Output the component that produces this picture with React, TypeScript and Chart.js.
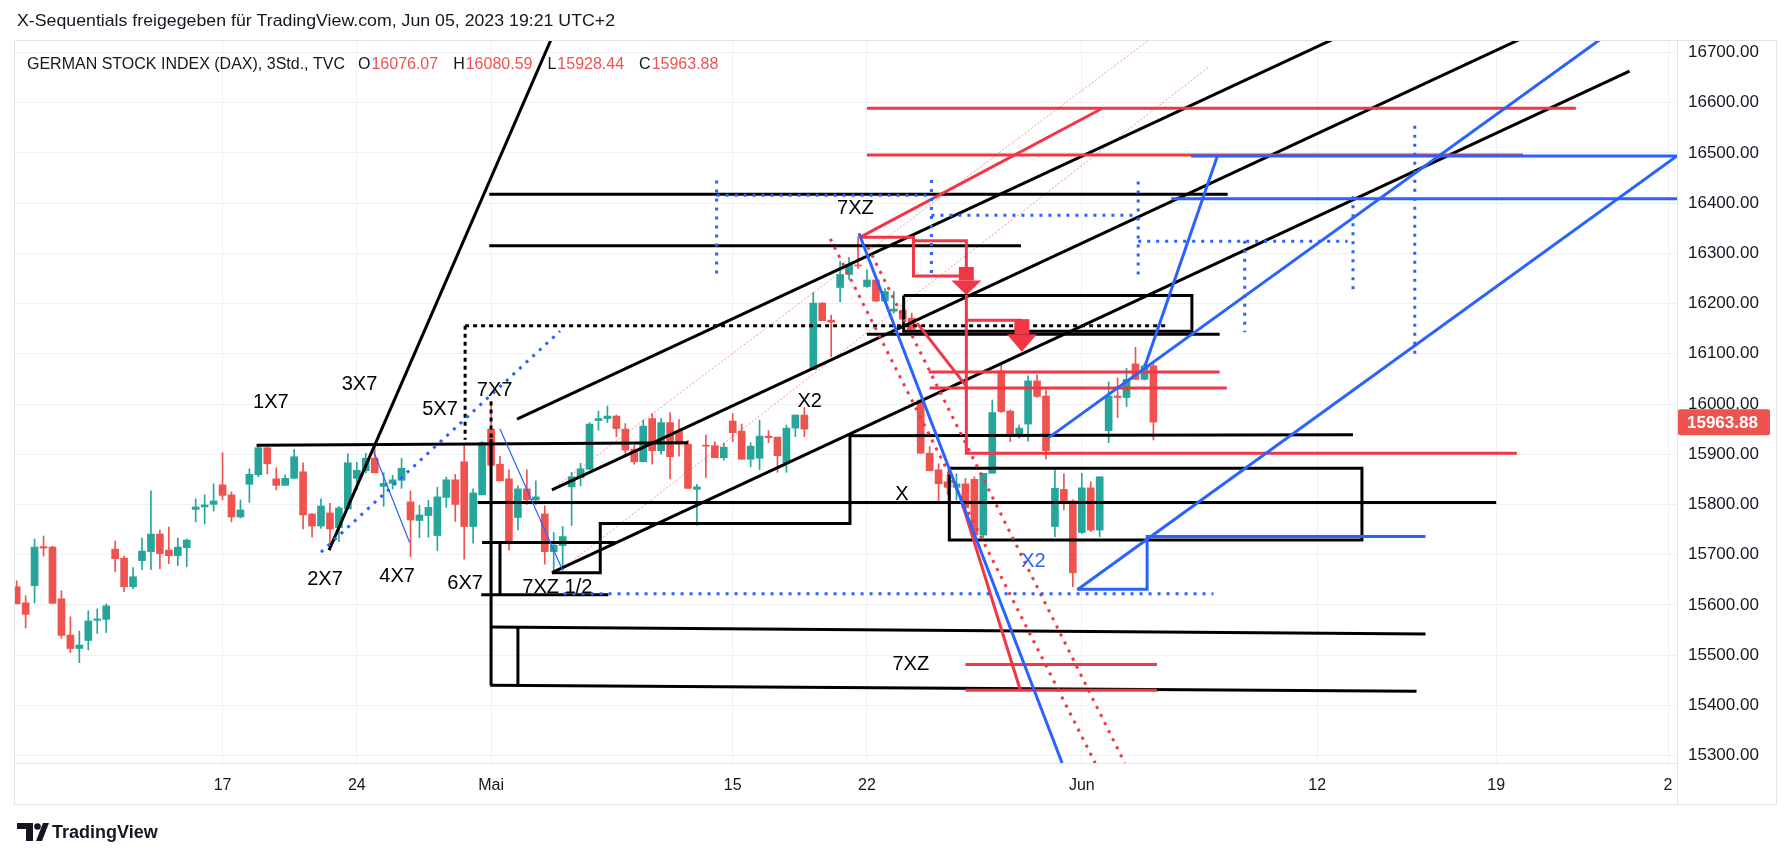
import React, { useEffect, useRef } from "react";
import { Chart, registerables } from "chart.js";

Chart.register(...registerables);

// ---------- candle data (3h bars, bar index 0 = first visible bar) ----------
const opens = [
  15636, 15604, 15638, 15716, 15715, 15612, 15540, 15513, 15529, 15569,
  15571, 15711, 15693, 15636, 15688, 15706, 15741, 15709, 15698, 15714,
  15790, 15795, 15800, 15839, 15819, 15775, 15840, 15859, 15913, 15851,
  15838, 15852, 15865, 15781, 15757, 15783, 15754, 15791, 15852, 15867,
  15892, 15836, 15842, 15848, 15805, 15768, 15778, 15738, 15814, 15849,
  15885, 15756, 15819, 15950, 15880, 15851, 15774, 15831, 15809, 15781,
  15706, 15718, 15835, 15853, 15870, 15967, 15971, 15976, 15950, 15910,
  15885, 15971, 15907, 15963, 15945, 15920, 15830, 15918, 15917, 15893,
  15966, 15946, 15890, 15892, 15936, 15934, 15883, 15952, 15978, 16069,
  16201, 16167, 16232, 16258, 16277, 16234, 16247, 16205, 16185, 16187,
  16171, 16008, 15902, 15869, 15845, 15834, 15841, 15850, 15739, 15862,
  16066, 15986, 15936, 15960, 16046, 16016, 15756, 15830, 15807, 15744,
  15833, 15749, 15947, 16016, 16013, 16080, 16049, 16076.07,
];
const highs = [
  15648, 15618, 15731, 15737, 15717, 15628, 15576, 15548, 15588, 15592,
  15602, 15727, 15697, 15674, 15733, 15827, 15749, 15755, 15733, 15731,
  15811, 15819, 15841, 15903, 15825, 15809, 15871, 15919, 15913, 15873,
  15859, 15909, 15883, 15782, 15811, 15802, 15796, 15901, 15884, 15902,
  15919, 15863, 15858, 15892, 15827, 15798, 15808, 15834, 15854, 15860,
  15919, 15831, 15925, 16005, 15896, 15869, 15837, 15869, 15847, 15797,
  15744, 15756, 15864, 15882, 15963, 15986, 15996, 15978, 15961, 15918,
  15968, 15981, 15971, 15983, 15969, 15928, 15840, 15938, 15925, 15922,
  15981, 15960, 15923, 15968, 15947, 15934, 15958, 15978, 15993, 16222,
  16202, 16177, 16284, 16292, 16333, 16267, 16247, 16230, 16224, 16187,
  16181, 16008, 15915, 15881, 15860, 15861, 15852, 15855, 15862, 16008,
  16081, 15988, 15958, 16056, 16058, 16028, 15869, 15861, 15809, 15862,
  15845, 15855, 16044, 16052, 16071, 16113, 16081, 16080.59,
];
const lows = [
  15602, 15554, 15604, 15697, 15603, 15533, 15505, 15485, 15510, 15543,
  15545, 15666, 15626, 15632, 15670, 15670, 15672, 15682, 15678, 15676,
  15765, 15761, 15787, 15809, 15765, 15773, 15804, 15855, 15861, 15829,
  15838, 15852, 15751, 15735, 15752, 15709, 15726, 15791, 15829, 15863,
  15863, 15796, 15831, 15832, 15696, 15734, 15735, 15708, 15794, 15766,
  15691, 15723, 15819, 15842, 15847, 15709, 15749, 15800, 15800, 15681,
  15669, 15669, 15758, 15837, 15870, 15948, 15963, 15935, 15900, 15880,
  15885, 15880, 15900, 15851, 15896, 15832, 15758, 15854, 15893, 15888,
  15925, 15890, 15875, 15869, 15923, 15864, 15864, 15935, 15935, 16069,
  16166, 16094, 16204, 16248, 16270, 16232, 16204, 16205, 16181, 16169,
  16149, 15902, 15867, 15804, 15820, 15809, 15792, 15737, 15734, 15862,
  15983, 15925, 15932, 15926, 16013, 15890, 15736, 15789, 15636, 15742,
  15746, 15736, 15923, 15973, 15995, 16049, 16048, 15928.44,
];
const closes = [
  15602, 15581, 15715, 15713, 15603, 15539, 15513, 15520, 15568, 15572,
  15598, 15692, 15636, 15656, 15707, 15741, 15702, 15698, 15715, 15729,
  15795, 15799, 15807, 15818, 15775, 15789, 15860, 15913, 15881, 15838,
  15852, 15895, 15779, 15757, 15797, 15751, 15793, 15883, 15868, 15892,
  15863, 15842, 15849, 15872, 15769, 15779, 15794, 15815, 15849, 15800,
  15756, 15823, 15923, 15878, 15847, 15726, 15831, 15809, 15815, 15706,
  15719, 15736, 15855, 15871, 15960, 15971, 15976, 15951, 15908, 15885,
  15956, 15907, 15963, 15895, 15920, 15832, 15835, 15916, 15893, 15914,
  15943, 15890, 15916, 15936, 15933, 15897, 15952, 15978, 15950, 16201,
  16166, 16163, 16258, 16277, 16275, 16247, 16205, 16224, 16189, 16169,
  16149, 15902, 15867, 15841, 15834, 15841, 15793, 15739, 15862, 15983,
  15985, 15935, 15952, 16046, 16015, 15907, 15832, 15805, 15664, 15833,
  15749, 15855, 16016, 16013, 16049, 16049, 16076, 15963.88,
];
const barIndex = opens.map((_, i) => i);

// ---------- axes ----------
const xTickPos = [23, 38, 53, 80, 95, 119, 145.3, 165.3, 184.5];
const xTickLabels = ["17", "24", "Mai", "15", "22", "Jun", "12", "19", "2"];
const yTicks = [15300, 15400, 15500, 15600, 15700, 15800, 15900, 16000, 16100, 16200, 16300, 16400, 16500, 16600, 16700];
const X_MIN = -0.3;
const X_MAX = 185.5;
const Y_MIN = 15285;
const Y_MAX = 16725;

// ---------- drawings: polylines of [barIndex, price] ----------
type Pt = [number, number];
const blackSolid: Pt[][] = [
  [[34.9, 15709], [62, 16820]],
  [[26.8, 15918], [75.0, 15923]],
  [[55.9, 15970], [147.5, 16730]],
  [[59.8, 15829], [168.5, 16731]],
  [[59.8, 15664], [180.2, 16663]],
  [[52.8, 16418], [135.3, 16418]],
  [[52.8, 16315], [112.2, 16315]],
  [[95.0, 16139], [134.4, 16139]],
  [[99.1, 16216], [131.3, 16216], [131.3, 16145], [99.1, 16145], [99.1, 16216]],
  [[59.8, 15664], [65.2, 15664], [65.2, 15762], [93.1, 15762], [93.1, 15937], [149.3, 15939]],
  [[51.5, 15804], [165.3, 15804]],
  [[104.2, 15872], [150.3, 15872], [150.3, 15729], [104.2, 15729], [104.2, 15872]],
  [[51.9, 15620], [66.1, 15620]],
  [[52.0, 15724], [66.9, 15724]],
  [[54.0, 15722], [54.0, 15620]],
  [[53.0, 15930], [53.0, 15440]],
  [[52.9, 15556], [157.4, 15542]],
  [[52.9, 15440], [156.4, 15428]],
  [[56.0, 15555], [56.0, 15440]],
];
const blackDotted: Pt[][] = [
  [[50.1, 16156], [128.7, 16156]],
  [[50.1, 16156], [50.1, 15929]],
  [[53.0, 16005], [53.0, 15930]],
];
const redSolid: Pt[][] = [
  [[95.0, 16589], [174.2, 16589]],
  [[95.0, 16496], [168.3, 16496]],
  [[94.2, 16332], [121.2, 16588]],
  [[94.2, 16332], [100.2, 16332], [100.2, 16255], [106.1, 16255]],
  [[100.2, 16325], [106.1, 16325], [106.1, 16273]],
  [[106.1, 16217], [106.1, 15902], [167.6, 15902]],
  [[106.1, 16167], [112.3, 16167]],
  [[101.9, 16064], [134.4, 16064]],
  [[102.0, 16032], [135.2, 16032]],
  [[100.6, 16161], [106.2, 16033]],
  [[105.5, 15810], [112.1, 15432]],
  [[106.0, 15481], [127.4, 15481]],
  [[106.0, 15430], [127.4, 15430]],
];
const redDotted: Pt[][] = [
  [[90.9, 16329], [120.5, 15285]],
  [[95.1, 16313], [123.8, 15285]],
];
const paleRedDotted: Pt[][] = [
  [[60.5, 15839], [126.5, 16725]],
  [[61.3, 15676], [133.1, 16670]],
];
const blueSolid: Pt[][] = [
  [[94.1, 16340], [116.8, 15285]],
  [[115.3, 15933], [178.0, 16740]],
  [[118.5, 15630], [185.5, 16494]],
  [[131.2, 16494], [185.5, 16494]],
  [[126.05, 16075], [134.15, 16494]],
  [[129.0, 16409], [185.5, 16409]],
  [[118.5, 15631], [126.3, 15631], [126.3, 15736], [157.4, 15736]],
];
const blueThin: Pt[][] = [
  [[39.9, 15905], [43.9, 15724]],
  [[54.0, 15950], [61.0, 15669]],
];
const blueDotted: Pt[][] = [
  [[34.0, 15705], [60.7, 16145]],
  [[61.1, 15622], [133.7, 15622]],
  [[78.2, 16445], [78.2, 16258]],
  [[78.2, 16416], [102.2, 16416]],
  [[102.2, 16446], [102.2, 16260]],
  [[102.2, 16376], [125.3, 16376]],
  [[125.3, 16443], [125.3, 16257]],
  [[125.3, 16324], [148.7, 16324]],
  [[137.2, 16325], [137.2, 16143]],
  [[149.3, 16414], [149.3, 16225]],
  [[156.2, 16554], [156.2, 16100]],
];
// red arrows: x, body top, head base, tip
const arrowX = [106.1, 112.3];
const arrowTop = [16273, 16169];
const arrowBase = [16246, 16139];
const arrowTip = [16217, 16104];

// text labels: text, x, price, blue?
const waveLabels: [string, number, number, boolean][] = [
  ["1X7", 28.4, 16004, false],
  ["3X7", 38.3, 16038, false],
  ["5X7", 47.3, 15990, false],
  ["7X7", 53.4, 16027, false],
  ["2X7", 34.45, 15650, false],
  ["4X7", 42.5, 15656, false],
  ["6X7", 50.1, 15643, false],
  ["7XZ 1/2", 60.4, 15635, false],
  ["7XZ", 93.7, 16390, false],
  ["X2", 88.6, 16005, false],
  ["X", 98.9, 15819, false],
  ["X2", 113.6, 15686, true],
  ["7XZ", 99.9, 15481, false],
];

const FONT = "'Liberation Sans', Arial, sans-serif";
const TEXT = "#131722";
const UP = "#26a69a";
const DOWN = "#ef5350";
const RED = "#f23645";
const BLUE = "#2962ff";
const GRID = "#eff1f5";
const FRAME = "#e0e3eb";

export default function App() {
  const ref = useRef<HTMLCanvasElement>(null);

  useEffect(() => {
    document.body.style.margin = "0";
    const canvas = ref.current;
    if (!canvas) return;

    const datasets: any[] = [];
    const addLines = (groups: Pt[][], color: string, width: number, dash: number[], order: number) => {
      groups.forEach((g) =>
        datasets.push({
          type: "line",
          data: g.map(([x, y]) => ({ x, y })),
          borderColor: color,
          borderWidth: width,
          borderDash: dash,
          borderCapStyle: "butt",
          borderJoinStyle: "miter",
          pointRadius: 0,
          pointHoverRadius: 0,
          fill: false,
          tension: 0,
          showLine: true,
          order,
        })
      );
    };

    const colors = barIndex.map((i) => (closes[i] >= opens[i] ? UP : DOWN));
    datasets.push({
      type: "bar",
      data: barIndex.map((i) => ({ x: i, y: [lows[i], highs[i]] })),
      backgroundColor: colors,
      borderWidth: 0,
      barThickness: 1,
      grouped: false,
      order: 101,
    });
    datasets.push({
      type: "bar",
      data: barIndex.map((i) => ({ x: i, y: [opens[i], closes[i]] })),
      backgroundColor: colors,
      borderWidth: 0,
      barThickness: 7,
      minBarLength: 1,
      grouped: false,
      order: 100,
    });
    addLines(paleRedDotted, "rgba(242,54,69,0.55)", 1, [2, 2], 60);
    addLines(blackSolid, "#000000", 3, [], 50);
    addLines(blackDotted, "#000000", 3, [4, 4], 48);
    addLines(redSolid, RED, 3, [], 40);
    addLines(redDotted, RED, 3, [3, 6], 38);
    addLines(blueDotted, BLUE, 3, [3, 6], 30);
    addLines(blueSolid, BLUE, 3, [], 20);
    addLines(blueThin, BLUE, 1.2, [], 19);

    const overlay = {
      id: "overlay",
      beforeDraw(chart: any) {
        const ctx = chart.ctx;
        ctx.save();
        ctx.fillStyle = "#ffffff";
        ctx.fillRect(0, 0, chart.width, chart.height);
        ctx.restore();
      },
      afterDatasetsDraw(chart: any) {
        const { ctx, chartArea } = chart;
        const xs = chart.scales.x;
        const ys = chart.scales.y;
        ctx.save();
        ctx.beginPath();
        ctx.rect(chartArea.left, chartArea.top, chartArea.right - chartArea.left, chartArea.bottom - chartArea.top);
        ctx.clip();
        // arrows
        ctx.fillStyle = RED;
        arrowX.forEach((ax, i) => {
          const px = xs.getPixelForValue(ax);
          const yt = ys.getPixelForValue(arrowTop[i]);
          const yb = ys.getPixelForValue(arrowBase[i]);
          const yp = ys.getPixelForValue(arrowTip[i]);
          ctx.fillRect(px - 7.5, yt, 15, yb - yt);
          ctx.beginPath();
          ctx.moveTo(px - 15, yb);
          ctx.lineTo(px + 15, yb);
          ctx.lineTo(px, yp);
          ctx.closePath();
          ctx.fill();
        });
        // labels
        ctx.font = `20px ${FONT}`;
        ctx.textAlign = "center";
        ctx.textBaseline = "middle";
        waveLabels.forEach(([t, lx, ly, blue]) => {
          ctx.fillStyle = blue ? BLUE : "#000000";
          ctx.fillText(t, xs.getPixelForValue(lx), ys.getPixelForValue(ly));
        });
        ctx.restore();
      },
      afterDraw(chart: any) {
        const { ctx, chartArea } = chart;
        const ys = chart.scales.y;
        ctx.save();
        // frame
        ctx.strokeStyle = FRAME;
        ctx.lineWidth = 1;
        ctx.beginPath();
        ctx.moveTo(14, 40.5);
        ctx.lineTo(1777, 40.5);
        ctx.moveTo(14.5, 40);
        ctx.lineTo(14.5, 805);
        ctx.moveTo(1776.5, 40);
        ctx.lineTo(1776.5, 805);
        ctx.moveTo(14, 804.5);
        ctx.lineTo(1777, 804.5);
        ctx.moveTo(chartArea.right + 0.5, chartArea.bottom);
        ctx.lineTo(chartArea.right + 0.5, 805);
        ctx.stroke();

        // last price label
        const last = closes.length - 1;
        const py = ys.getPixelForValue(closes[last]);
        ctx.fillStyle = DOWN;
        ctx.beginPath();
        (ctx as any).roundRect(chartArea.right + 1, py - 13, 92, 26, 2);
        ctx.fill();
        ctx.fillStyle = "#ffffff";
        ctx.font = `bold 17px ${FONT}`;
        ctx.textAlign = "left";
        ctx.textBaseline = "middle";
        ctx.fillText(closes[last].toFixed(2), chartArea.right + 10, py + 1);

        // header (fitted to the reference width)
        ctx.fillStyle = TEXT;
        ctx.font = `17px ${FONT}`;
        const header = "X-Sequentials freigegeben für TradingView.com, Jun 05, 2023 19:21 UTC+2";
        const hw = ctx.measureText(header).width;
        ctx.save();
        ctx.translate(17, 21);
        ctx.scale(598 / hw, 1);
        ctx.fillText(header, 0, 0);
        ctx.restore();

        // legend
        ctx.font = `16px ${FONT}`;
        let lx = 27;
        const ly = 65;
        const title = "GERMAN STOCK INDEX (DAX), 3Std., TVC";
        ctx.fillStyle = TEXT;
        ctx.fillText(title, lx, ly);
        lx += ctx.measureText(title).width + 13;
        const vals: [string, number][] = [
          ["O", opens[last]],
          ["H", highs[last]],
          ["L", lows[last]],
          ["C", closes[last]],
        ];
        vals.forEach(([k, v]) => {
          ctx.fillStyle = TEXT;
          ctx.fillText(k, lx, ly);
          lx += ctx.measureText(k).width + 1;
          const s = v.toFixed(2);
          ctx.fillStyle = DOWN;
          ctx.fillText(s, lx, ly);
          lx += ctx.measureText(s).width + 15;
        });

        // TradingView logo
        ctx.fillStyle = TEXT;
        ctx.beginPath();
        ctx.moveTo(17, 823);
        ctx.lineTo(33, 823);
        ctx.lineTo(33, 841);
        ctx.lineTo(26, 841);
        ctx.lineTo(26, 829);
        ctx.lineTo(17, 829);
        ctx.closePath();
        ctx.fill();
        ctx.beginPath();
        ctx.arc(37.5, 826.5, 3.3, 0, Math.PI * 2);
        ctx.fill();
        ctx.beginPath();
        ctx.moveTo(36, 841);
        ctx.lineTo(43, 823);
        ctx.lineTo(49, 823);
        ctx.lineTo(42, 841);
        ctx.closePath();
        ctx.fill();
        ctx.font = `bold 18px ${FONT}`;
        ctx.fillText("TradingView", 52, 833);
        ctx.restore();
      },
    };

    const chart = new Chart(canvas, {
      type: "bar",
      data: { datasets },
      options: {
        responsive: false,
        animation: false,
        devicePixelRatio: 1,
        events: [],
        layout: { padding: { left: 14, top: 40, right: 14, bottom: 53 } },
        plugins: {
          legend: { display: false },
          tooltip: { enabled: false },
          title: { display: false },
        },
        scales: {
          x: {
            type: "linear",
            min: X_MIN,
            max: X_MAX,
            offset: false,
            position: "bottom",
            grid: { color: GRID, drawTicks: false, offset: false },
            border: { color: FRAME },
            afterBuildTicks: (s: any) => {
              s.ticks = xTickPos.map((v) => ({ value: v }));
            },
            afterFit: (s: any) => {
              s.height = 42;
            },
            ticks: {
              autoSkip: false,
              maxRotation: 0,
              padding: 13,
              color: TEXT,
              font: { family: FONT, size: 16 },
              callback: (_v: any, i: number) => xTickLabels[i],
            },
          },
          y: {
            type: "linear",
            position: "right",
            min: Y_MIN,
            max: Y_MAX,
            beginAtZero: false,
            grid: { color: GRID, drawTicks: false },
            border: { color: FRAME },
            afterBuildTicks: (s: any) => {
              s.ticks = yTicks.map((v) => ({ value: v }));
            },
            afterFit: (s: any) => {
              s.width = 100;
            },
            ticks: {
              padding: 11,
              color: TEXT,
              font: { family: FONT, size: 17 },
              callback: (v: any) => Number(v).toFixed(2),
            },
          },
        },
      } as any,
      plugins: [overlay],
    });

    return () => chart.destroy();
  }, []);

  return <canvas ref={ref} width={1791} height={858} style={{ display: "block", width: 1791, height: 858 }} />;
}
